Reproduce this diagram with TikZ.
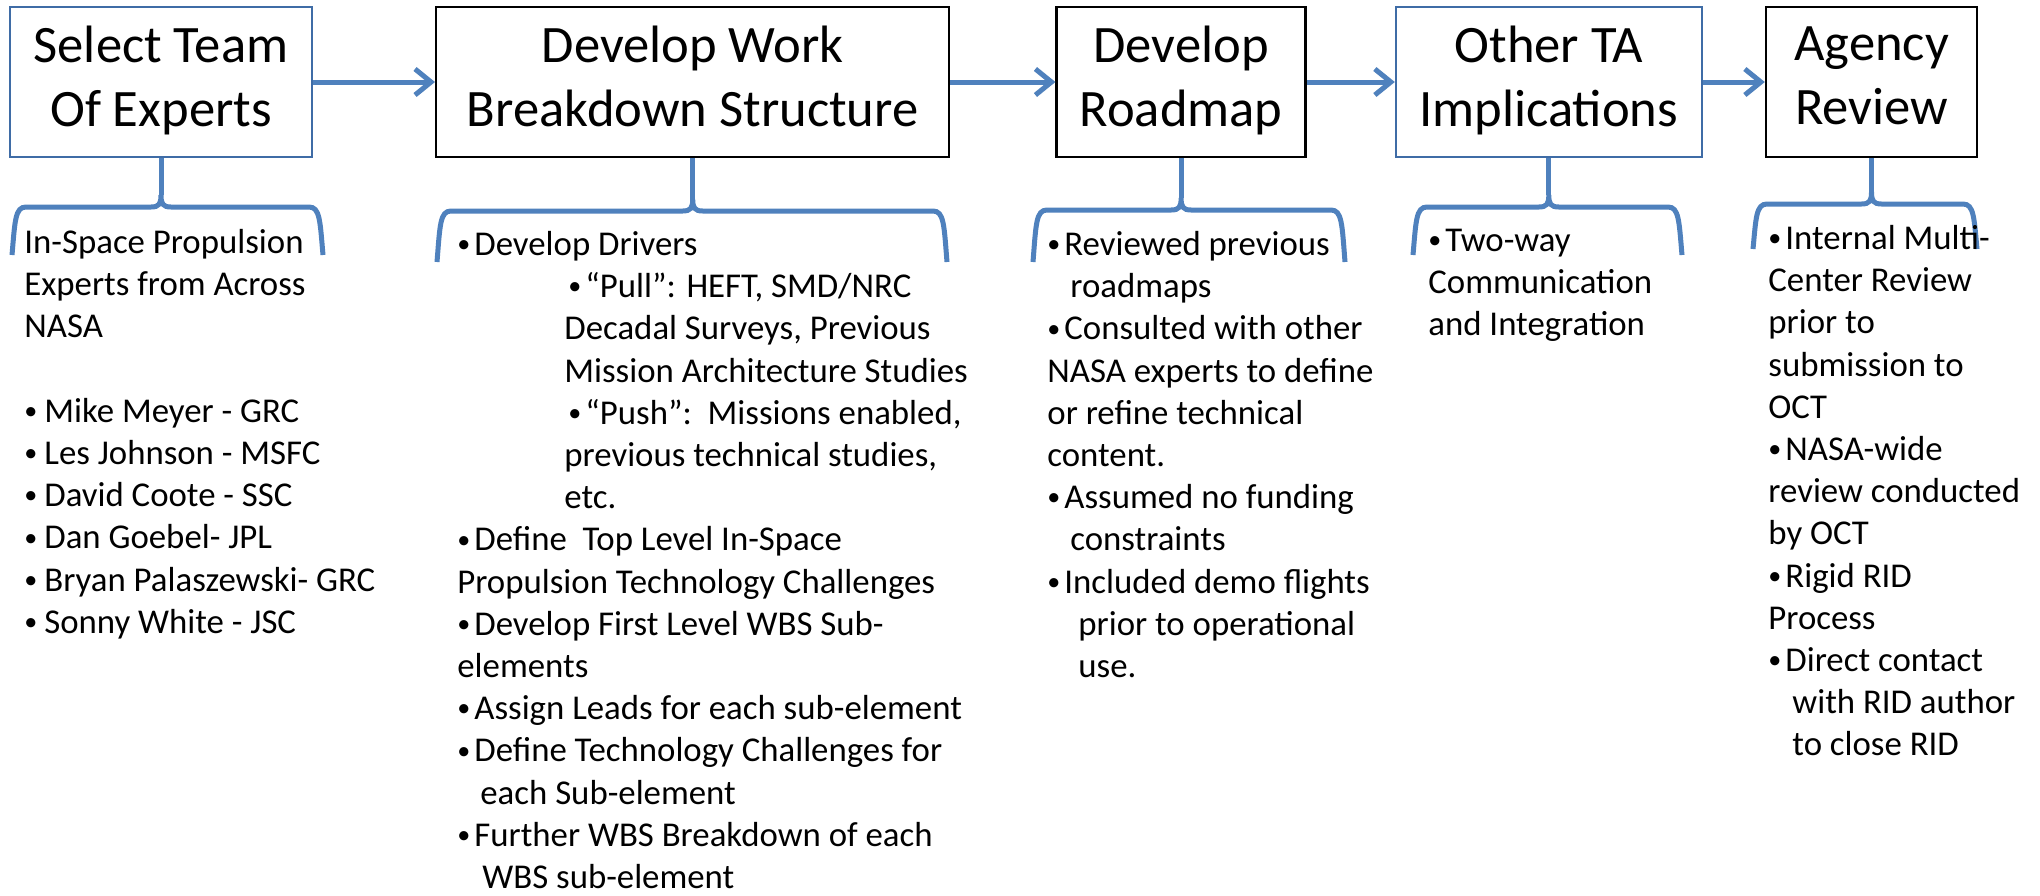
\documentclass[tikz,border=0pt]{standalone}
\usepackage{fontspec}
\setmainfont{Carlito}
\usepackage{tikz}
\usetikzlibrary{positioning,calc,arrows.meta}
\definecolor{FlowBlue}{HTML}{4F81BD}
\definecolor{EdgeBlue}{HTML}{3F6CA6}
\tikzstyle{StageBox}=[rectangle, draw=black, line width=1.2pt, minimum height=75pt, inner sep=0pt, align=center, font=\fontsize{26.3}{32.1}\selectfont, execute at begin node={\rule{0pt}{26.6pt}}, execute at end node={\rule[-6pt]{0pt}{6pt}}]
\tikzstyle{BlueBox}=[StageBox, draw=EdgeBlue, line width=1pt]
\tikzstyle{ListText}=[anchor=north west, inner sep=0pt, align=left, font=\fontsize{17.4}{21.1}\selectfont]
\tikzstyle{FlowArrow}=[-{Straight Barb[length=8pt,width=13pt]}, draw=FlowBlue, line width=2.5pt]
\tikzstyle{BraceLine}=[draw=FlowBlue, line width=2.5pt]
\newcommand{\bul}[1][8.5pt]{\makebox[#1][l]{\raisebox{1.4pt}{\scalebox{0.75}{•}}}}
% #1 box, #2 left end, #3 right end, #4 bar height, #5 end height
\newcommand{\UnderBrace}[5]{%
  \draw [BraceLine] (#2,#5) .. controls (#2+3,#4+14) and (#2+3,#4) .. (#2+14,#4)
    -- ($(#1.south |- 0,#4)+(-10,0)$) .. controls ($(#1.south |- 0,#4)+(-2,0)$) and ($(#1.south |- 0,#4)+(0,-3)$) .. ($(#1.south |- 0,#4)+(0,-12)$)
    .. controls ($(#1.south |- 0,#4)+(0,-3)$) and ($(#1.south |- 0,#4)+(2,0)$) .. ($(#1.south |- 0,#4)+(10,0)$)
    -- (#3-14,#4) .. controls (#3-3,#4) and (#3-3,#4+14) .. (#3,#5);
  \draw [BraceLine] ($(#1.south |- 0,#4)+(0,-12)$) -- (#1.south);
}

\begin{document}
\begin{tikzpicture}[x=0.5pt, y=-0.5pt]

    \fill [white] (0,0) rectangle (2040,895);
    \useasboundingbox (0,0) rectangle (2040,895);

    % process steps
    \node (Team) [BlueBox, minimum width=151pt] at (161,82) {Select Team\\Of Experts};
    \node (WBS) [StageBox, minimum width=256.5pt, right=61pt of Team] {Develop Work\\Breakdown Structure};
    \node (Roadmap) [StageBox, minimum width=124.5pt, right=52.5pt of WBS] {Develop\\Roadmap};
    \node (OtherTA) [BlueBox, minimum width=153pt, right=44pt of Roadmap] {Other TA\\Implications};
    \node (Review) [StageBox, minimum width=105.5pt, right=31pt of OtherTA] {Agency\\Review};

    \draw [FlowArrow] (Team.east) -- (WBS.west);
    \draw [FlowArrow] (WBS.east) -- (Roadmap.west);
    \draw [FlowArrow] (Roadmap.east) -- (OtherTA.west);
    \draw [FlowArrow] (OtherTA.east) -- (Review.west);

    % braces under the steps
    \UnderBrace{Team}{12}{323}{207}{255}
    \UnderBrace{WBS}{437}{947}{211}{262}
    \UnderBrace{Roadmap}{1033}{1345}{210}{262}
    \UnderBrace{OtherTA}{1413}{1682}{207}{255}
    \UnderBrace{Review}{1753}{1977}{204}{249}

    % details
    \node (TeamList) [ListText] at (24,223.6)
    {
      \strut In-Space Propulsion\\
      Experts from Across\\
      NASA\\[21.1pt]
      \bul[10pt]Mike Meyer - GRC\\
      \bul[10pt]Les Johnson - MSFC\\
      \bul[10pt]David Coote - SSC\\
      \bul[10pt]Dan Goebel- JPL\\
      \bul[10pt]Bryan Palaszewski- GRC\\
      \bul[10pt]Sonny White - JSC
    };
    \node (WBSList) [ListText] at (457,225.6)
    {
      \strut\bul Develop Drivers\\
      \hspace*{55.5pt}\bul “Pull”: HEFT, SMD/NRC\\
      \hspace*{53.5pt}Decadal Surveys, Previous\\
      \hspace*{53.5pt}Mission Architecture Studies\\
      \hspace*{55.5pt}\bul “Push”:\ \ Missions enabled,\\
      \hspace*{53.5pt}previous technical studies,\\
      \hspace*{53.5pt}etc.\\
      \bul Define\ \ Top Level In-Space\\
      Propulsion Technology Challenges\\
      \bul Develop First Level WBS Sub-\\
      elements\\
      \bul Assign Leads for each sub-element\\
      \bul Define Technology Challenges for\\
      \hspace*{11.5pt}each Sub-element\\
      \bul Further WBS Breakdown of each\\
      \hspace*{12.5pt}WBS sub-element
    };
    \node (RoadmapList) [ListText] at (1047,225.6)
    {
      \strut\bul Reviewed previous\\
      \hspace*{11.5pt}roadmaps\\
      \bul Consulted with other\\
      NASA experts to define\\
      or refine technical\\
      content.\\
      \bul Assumed no funding\\
      \hspace*{11.5pt}constraints\\
      \bul Included demo flights\\
      \hspace*{15.5pt}prior to operational\\
      \hspace*{15.5pt}use.
    };
    \node (OtherTAList) [ListText] at (1428,221.6)
    {
      \strut\bul Two-way\\
      Communication\\
      and Integration
    };
    \node (ReviewList) [ListText] at (1768,219.6)
    {
      \strut\bul Internal Multi-\\
      Center Review\\
      prior to\\
      submission to\\
      OCT\\
      \bul NASA-wide\\
      review conducted\\
      by OCT\\
      \bul Rigid RID\\
      Process\\
      \bul Direct contact\\
      \hspace*{12pt}with RID author\\
      \hspace*{12pt}to close RID
    };

\end{tikzpicture}
\end{document}
